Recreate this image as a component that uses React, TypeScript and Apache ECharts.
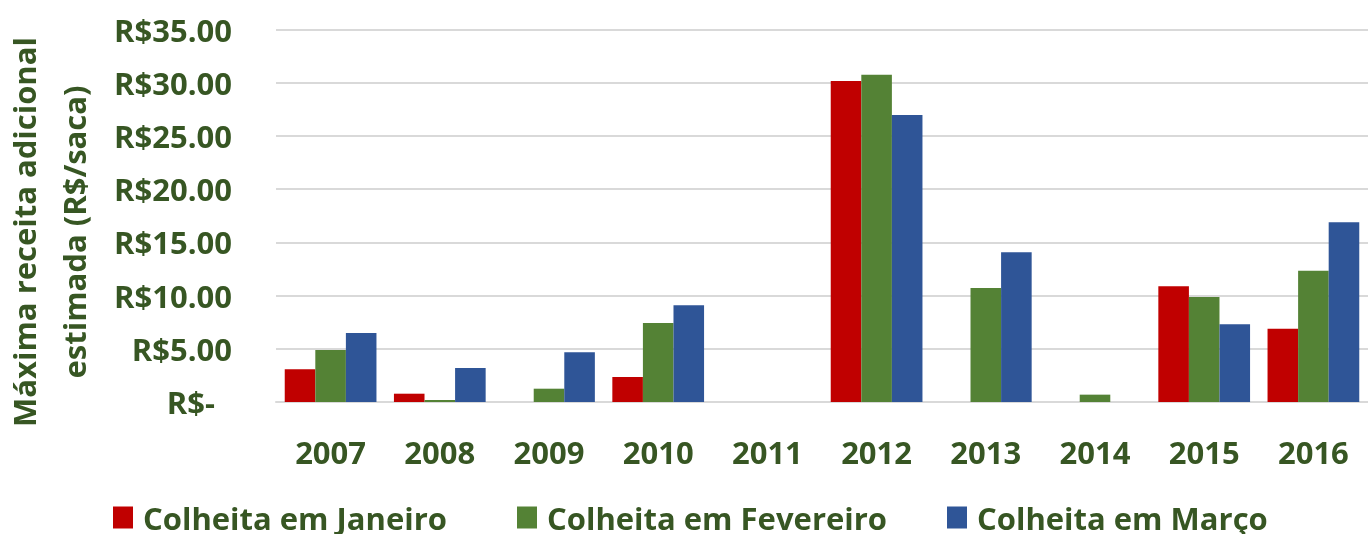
import React, { useEffect, useRef } from "react";
import * as echarts from "echarts";

const categories = ["2007", "2008", "2009", "2010", "2011", "2012", "2013", "2014", "2015", "2016"];
const janeiro = [3.07, 0.78, 0, 2.35, 0, 30.17, 0, 0, 10.87, 6.89];
const fevereiro = [4.89, 0.19, 1.25, 7.42, 0, 30.76, 10.71, 0.69, 9.87, 12.34];
const marco = [6.48, 3.2, 4.67, 9.09, 0, 26.97, 14.07, 0, 7.3, 16.89];
const seriesNames = ["Colheita em Janeiro", "Colheita em Fevereiro", "Colheita em Março"];
const colors = ["#C00000", "#548235", "#2F5597"];
const yTitle = "Máxima receita adicional\nestimada (R$/saca)";

const TEXT = "#375623";
const FONT = "'Open Sans', sans-serif";
const FS = 31;

export default function App() {
  const ref = useRef<HTMLDivElement>(null);
  useEffect(() => {
    if (!ref.current) return;
    const chart = echarts.init(ref.current, undefined, { renderer: "svg" });
    const data = [janeiro, fevereiro, marco];
    const legendLefts = [113, 517, 947];
    chart.setOption({
      animation: false,
      grid: { left: 276, top: 29.5, height: 372.5, width: 1109 },
      xAxis: {
        type: "category",
        data: categories,
        axisLine: { lineStyle: { color: "#d9d9d9", width: 2 } },
        axisTick: { show: false },
        axisLabel: {
          color: TEXT,
          fontFamily: FONT,
          fontWeight: "bold",
          fontSize: FS,
          margin: 34,
        },
      },
      yAxis: {
        type: "value",
        min: 0,
        max: 35,
        interval: 5,
        axisLine: { show: false },
        axisTick: { show: false },
        splitLine: { lineStyle: { color: "#d9d9d9", width: 2 } },
        axisLabel: {
          color: TEXT,
          fontFamily: FONT,
          fontWeight: "bold",
          fontSize: FS,
          margin: 44,
          formatter: (v: number) => (v === 0 ? "{z|R$-}" : "R$" + v.toFixed(2)),
          rich: {
            z: {
              color: TEXT,
              fontFamily: FONT,
              fontWeight: "bold",
              fontSize: FS,
              padding: [0, 17, 0, 0],
            },
          },
        },
      },
      legend: seriesNames.map((n, i) => ({
        data: [n],
        left: legendLefts[i],
        top: 502,
        padding: 0,
        itemWidth: 20,
        itemHeight: 22,
        icon: "rect",
        selectedMode: false,
        textStyle: {
          color: TEXT,
          fontFamily: FONT,
          fontWeight: "bold",
          fontSize: FS,
          lineHeight: 22,
          padding: [0, 0, 0, 5],
        },
      })),
      graphic: [
        {
          type: "text",
          x: 49,
          y: 232,
          rotation: Math.PI / 2,
          style: {
            text: yTitle,
            fill: TEXT,
            font: `bold ${FS}px ${FONT}`,
            align: "center",
            verticalAlign: "middle",
            lineHeight: 50,
          },
        },
      ],
      series: seriesNames.map((n, i) => ({
        name: n,
        type: "bar",
        data: data[i],
        barGap: "0%",
        barCategoryGap: "16%",
        itemStyle: { color: colors[i] },
      })),
    });
    return () => chart.dispose();
  }, []);
  return (
    <div
      ref={ref}
      style={{ position: "fixed", left: 0, top: 0, width: 1368, height: 534 }}
    />
  );
}
